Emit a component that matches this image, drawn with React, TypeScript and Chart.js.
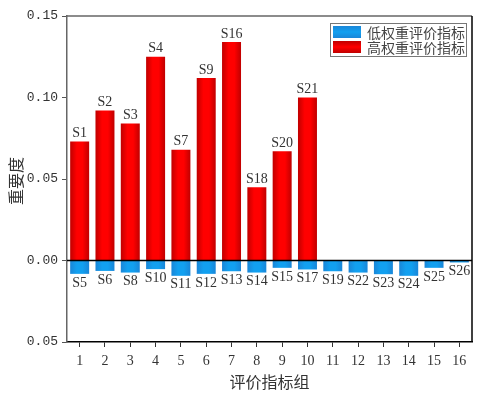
import React, { useEffect, useRef } from "react";
import { Chart, registerables } from "chart.js";

Chart.register(...registerables);

const categories = ["1", "2", "3", "4", "5", "6", "7", "8", "9", "10", "11", "12", "13", "14", "15", "16"];
const lowNames = ["S5", "S6", "S8", "S10", "S11", "S12", "S13", "S14", "S15", "S17", "S19", "S22", "S23", "S24", "S25", "S26"];
const lowValues = [-0.0082, -0.0064, -0.0074, -0.0053, -0.0094, -0.0082, -0.0066, -0.0074, -0.0045, -0.0055, -0.0066, -0.0074, -0.0084, -0.0094, -0.0045, -0.0012];
const highNames = ["S1", "S2", "S3", "S4", "S7", "S9", "S16", "S18", "S20", "S21"];
const highValues = [0.073, 0.092, 0.084, 0.125, 0.068, 0.112, 0.134, 0.045, 0.067, 0.1, null, null, null, null, null, null];
const yTicks = [-0.05, 0, 0.05, 0.1, 0.15];
const lowLabel = "低权重评价指标";
const highLabel = "高权重评价指标";
const xTitle = "评价指标组";
const yTitle = "重要度";

const SERIF = "'Liberation Serif', 'DejaVu Serif', 'Noto Sans CJK SC', serif";
const MONO = "'Liberation Mono', 'DejaVu Sans Mono', monospace";
const CJK = "'Noto Sans CJK SC', 'Liberation Serif', serif";

function gradFill(edge: string, mid: string) {
  return (c: any) => {
    const chart = c.chart;
    const xs = chart.scales.x;
    if (!chart.chartArea || !xs) return mid;
    const x = xs.getPixelForValue(c.dataIndex);
    const w = (xs.width / categories.length) * 0.75;
    const g = chart.ctx.createLinearGradient(x - w / 2, 0, x + w / 2, 0);
    g.addColorStop(0, edge);
    g.addColorStop(0.35, mid);
    g.addColorStop(0.65, mid);
    g.addColorStop(1, edge);
    return g;
  };
}

const decorPlugin = {
  id: "decor",
  afterDatasetsDraw(chart: any) {
    const { ctx, chartArea: a, scales } = chart;
    const ys = scales.y;
    ctx.save();
    // zero line
    const y0 = ys.getPixelForValue(0);
    ctx.strokeStyle = "#000";
    ctx.lineWidth = 1.5;
    ctx.beginPath();
    ctx.moveTo(a.left, y0);
    ctx.lineTo(a.right, y0);
    ctx.stroke();
    // top border
    ctx.strokeStyle = "#666";
    ctx.lineWidth = 1.5;
    ctx.beginPath();
    ctx.moveTo(a.left, a.top);
    ctx.lineTo(a.right, a.top);
    ctx.stroke();
    // right border
    ctx.strokeStyle = "#000";
    ctx.beginPath();
    ctx.moveTo(a.right, a.top);
    ctx.lineTo(a.right, a.bottom);
    ctx.stroke();

    // bar labels
    ctx.fillStyle = "#333";
    ctx.font = "14px " + SERIF;
    ctx.textAlign = "center";
    const m0 = chart.getDatasetMeta(0);
    m0.data.forEach((bar: any, i: number) => {
      ctx.textBaseline = "top";
      ctx.fillText(lowNames[i], bar.x, bar.y + 2);
    });
    const m1 = chart.getDatasetMeta(1);
    m1.data.forEach((bar: any, i: number) => {
      if (highValues[i] == null) return;
      ctx.textBaseline = "bottom";
      ctx.fillText(highNames[i], bar.x, bar.y - 1);
    });

    // legend
    const lx = 330, ly = 23, lw = 136, lh = 33;
    ctx.fillStyle = "#fff";
    ctx.fillRect(lx, ly, lw, lh);
    ctx.strokeStyle = "#777";
    ctx.lineWidth = 1;
    ctx.strokeRect(lx + 0.5, ly + 0.5, lw, lh);
    const items = [
      { label: lowLabel, edge: "#1a86d8", mid: "#12a0f0" },
      { label: highLabel, edge: "#c00000", mid: "#ff0000" },
    ];
    items.forEach((it, k) => {
      const sy = ly + 3 + k * 15;
      const g = ctx.createLinearGradient(0, sy, 0, sy + 12);
      g.addColorStop(0, it.edge);
      g.addColorStop(0.5, it.mid);
      g.addColorStop(1, it.edge);
      ctx.fillStyle = g;
      ctx.fillRect(lx + 3, sy, 28, 12);
      ctx.fillStyle = "#444";
      ctx.font = "14px " + CJK;
      ctx.textAlign = "left";
      ctx.textBaseline = "middle";
      ctx.fillText(it.label, lx + 37, sy + 6.5);
    });

    // axis titles
    ctx.fillStyle = "#333";
    ctx.font = "16px " + CJK;
    ctx.textAlign = "center";
    ctx.textBaseline = "middle";
    ctx.fillText(xTitle, (a.left + a.right) / 2, 382);
    ctx.save();
    ctx.translate(16, (a.top + a.bottom) / 2 + 2);
    ctx.rotate(-Math.PI / 2);
    ctx.fillText(yTitle, 0, 0);
    ctx.restore();
    ctx.restore();
  },
};

export default function App() {
  const ref = useRef<HTMLCanvasElement | null>(null);
  useEffect(() => {
    document.body.style.margin = "0";
    if (!ref.current) return;
    const chart = new Chart(ref.current, {
      type: "bar",
      data: {
        labels: categories,
        datasets: [
          {
            label: lowLabel,
            data: lowValues,
            backgroundColor: gradFill("#1a86d8", "#12a0f0"),
            borderWidth: 0,
            barPercentage: 0.75,
            categoryPercentage: 1,
          },
          {
            label: highLabel,
            data: highValues,
            backgroundColor: gradFill("#c00000", "#ff0000"),
            borderWidth: 0,
            barPercentage: 0.75,
            categoryPercentage: 1,
          },
        ],
      },
      options: {
        responsive: false,
        animation: false,
        layout: { padding: { left: 0, right: 15, top: 16, bottom: 0 } },
        plugins: { legend: { display: false }, tooltip: { enabled: false } },
        scales: {
          x: {
            stacked: true,
            offset: true,
            grid: { display: true, drawOnChartArea: false, drawTicks: true, tickLength: 5, color: "#333", offset: false },
            border: { display: true, color: "#000", width: 1.5 },
            ticks: { color: "#333", font: { family: SERIF, size: 14 }, padding: 6, autoSkip: false, maxRotation: 0 },
            afterFit: (s: any) => { s.height = 52; },
          },
          y: {
            stacked: true,
            min: -0.05,
            max: 0.15,
            afterBuildTicks: (s: any) => { s.ticks = yTicks.map((v) => ({ value: v })); },
            grid: { display: true, drawOnChartArea: false, drawTicks: true, tickLength: 5, color: "#555" },
            border: { display: true, color: "#666", width: 1.5 },
            ticks: {
              color: "#333",
              font: { family: MONO, size: 13 },
              padding: 4,
              callback: (v: any) => Math.abs(Number(v)).toFixed(2),
            },
            afterFit: (s: any) => { s.width = 67; },
          },
        },
      },
      plugins: [decorPlugin],
    } as any);
    return () => chart.destroy();
  }, []);
  return <canvas ref={ref} width={487} height={394} style={{ display: "block" }} />;
}
